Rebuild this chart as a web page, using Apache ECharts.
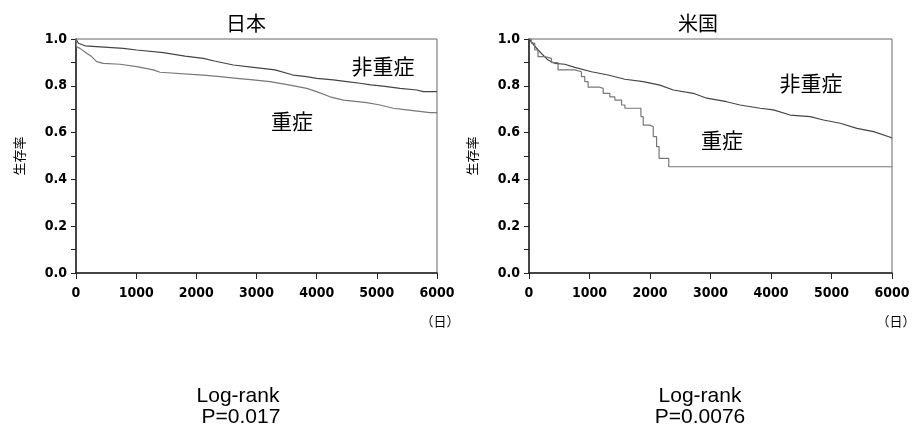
<!DOCTYPE html>
<html>
<head>
<meta charset="utf-8">
<script src="https://cdn.jsdelivr.net/npm/echarts@6/dist/echarts.min.js"></script>
<style>
  html, body { margin: 0; padding: 0; background: #fff; }
  #chart-container { width: 916px; height: 444px; }
</style>
</head>
<body>
<div id="chart-container"></div>
<script>
// 日本
var jpNonSevereDays = [0, 40, 150, 786, 1008, 1451, 1811, 2116, 2300, 2615, 2950, 3307, 3607, 3800, 4001, 4277, 4500, 4720, 4900, 5103, 5385, 5662, 5772, 6000];
var jpNonSevereSurv = [1.0, 0.982, 0.971, 0.960, 0.953, 0.942, 0.927, 0.917, 0.906, 0.889, 0.879, 0.868, 0.846, 0.840, 0.832, 0.825, 0.818, 0.811, 0.804, 0.799, 0.789, 0.782, 0.775, 0.775];
var jpSevereDays = [0, 10, 66, 177, 260, 343, 454, 731, 1008, 1285, 1396, 2116, 2393, 2670, 2947, 3224, 3557, 3834, 4000, 4222, 4443, 4832, 5053, 5274, 5496, 5884, 6000];
var jpSevereSurv = [1.0, 0.967, 0.960, 0.939, 0.925, 0.903, 0.896, 0.892, 0.882, 0.868, 0.858, 0.846, 0.839, 0.832, 0.825, 0.818, 0.803, 0.789, 0.775, 0.753, 0.739, 0.728, 0.718, 0.704, 0.697, 0.685, 0.685];
// 米国
var usNonSevereDays = [0, 149, 315, 425, 591, 757, 1033, 1308, 1585, 1888, 2164, 2385, 2715, 2937, 3267, 3488, 3819, 4040, 4316, 4647, 4868, 5144, 5420, 5696, 5972, 6000];
var usNonSevereSurv = [1.0, 0.953, 0.910, 0.896, 0.892, 0.879, 0.860, 0.846, 0.828, 0.818, 0.803, 0.782, 0.768, 0.747, 0.732, 0.718, 0.704, 0.697, 0.675, 0.668, 0.654, 0.640, 0.618, 0.604, 0.580, 0.576];
var usSevereDays = [0, 39, 94, 149, 260, 370, 480, 757, 867, 922, 977, 1171, 1226, 1336, 1419, 1530, 1585, 1850, 1888, 1999, 2054, 2109, 2150, 2310, 6000];
var usSevereSurv = [1.0, 0.982, 0.953, 0.925, 0.917, 0.899, 0.868, 0.860, 0.839, 0.818, 0.794, 0.789, 0.768, 0.753, 0.739, 0.718, 0.704, 0.668, 0.632, 0.625, 0.583, 0.540, 0.490, 0.454, 0.454];

var xTicks = [0, 1000, 2000, 3000, 4000, 5000, 6000];
var panelTitles = ['日本', '米国'];
var pValues = ['P=0.017', 'P=0.0076'];

function zip(xs, ys) {
    return xs.map(function (x, i) { return [x, ys[i]]; });
}

var dom = document.getElementById('chart-container');
var myChart = echarts.init(dom, null, { renderer: 'canvas' });

var numFont = 'DejaVu Sans Condensed';
var cjkFont = 'Noto Sans CJK JP';

function xAxisFor(idx) {
    return {
        type: 'value', gridIndex: idx,
        min: xTicks[0], max: xTicks[xTicks.length - 1], interval: 1000,
        axisLine: { lineStyle: { color: '#222', width: 1.5 } },
        axisTick: { length: 6, lineStyle: { color: '#222' } },
        axisLabel: {
            color: '#000', fontFamily: numFont, fontSize: 14, fontWeight: 'bold', margin: 13,
            formatter: function (v) { return String(v); }
        },
        splitLine: { show: false }
    };
}
function yAxisFor(idx) {
    return {
        type: 'value', gridIndex: idx,
        min: 0, max: 1, interval: 0.2,
        name: '生存率', nameLocation: 'middle', nameRotate: 90, nameGap: 50,
        nameTextStyle: { fontFamily: cjkFont, fontSize: 13, color: '#000' },
        axisLine: { show: true, lineStyle: { color: '#222', width: 1.5 } },
        axisTick: { show: true, length: 5, lineStyle: { color: '#222' } },
        minorTick: { show: true, splitNumber: 2, length: 5, lineStyle: { color: '#222' } },
        axisLabel: {
            color: '#000', fontFamily: numFont, fontSize: 14, fontWeight: 'bold', margin: 9,
            formatter: function (v) { return v.toFixed(1); }
        },
        splitLine: { show: false }
    };
}
function curve(idx, days, surv, color, stepped) {
    return {
        type: 'line', xAxisIndex: idx, yAxisIndex: idx,
        step: stepped ? 'end' : false, symbol: 'none',
        data: zip(days, surv),
        lineStyle: { color: color, width: 1.2 }
    };
}
function txt(x, y, s, size, family) {
    return {
        type: 'text', x: x, y: y,
        style: {
            text: s, fill: '#000', fontSize: size, fontFamily: family,
            align: 'center', verticalAlign: 'middle'
        }
    };
}

var option = {
    animation: false,
    grid: [
        { left: 76, right: 479, top: 39, bottom: 171, show: true, borderColor: '#666', borderWidth: 1 },
        { left: 529, right: 24, top: 39, bottom: 171, show: true, borderColor: '#666', borderWidth: 1 }
    ],
    xAxis: [xAxisFor(0), xAxisFor(1)],
    yAxis: [yAxisFor(0), yAxisFor(1)],
    series: [
        curve(0, jpNonSevereDays, jpNonSevereSurv, '#444', false),
        curve(0, jpSevereDays, jpSevereSurv, '#777', false),
        curve(1, usNonSevereDays, usNonSevereSurv, '#444', false),
        curve(1, usSevereDays, usSevereSurv, '#777', true)
    ],
    graphic: [
        txt(246, 23, panelTitles[0], 20, cjkFont),
        txt(698, 23, panelTitles[1], 20, cjkFont),
        txt(383, 66, '非重症', 21, cjkFont),
        txt(292, 121, '重症', 21, cjkFont),
        txt(811, 83, '非重症', 21, cjkFont),
        txt(722, 140, '重症', 21, cjkFont),
        txt(440, 321, '（日）', 13, cjkFont),
        txt(896, 321, '（日）', 13, cjkFont),
        txt(238, 396, 'Log-rank', 21, 'Liberation Sans'),
        txt(241, 417, pValues[0], 21, 'Liberation Sans'),
        txt(700, 396, 'Log-rank', 21, 'Liberation Sans'),
        txt(700, 417, pValues[1], 21, 'Liberation Sans')
    ]
};

if (option && typeof option === 'object') {
    myChart.setOption(option);
}

window.addEventListener('resize', myChart.resize);
</script>
</body>
</html>
